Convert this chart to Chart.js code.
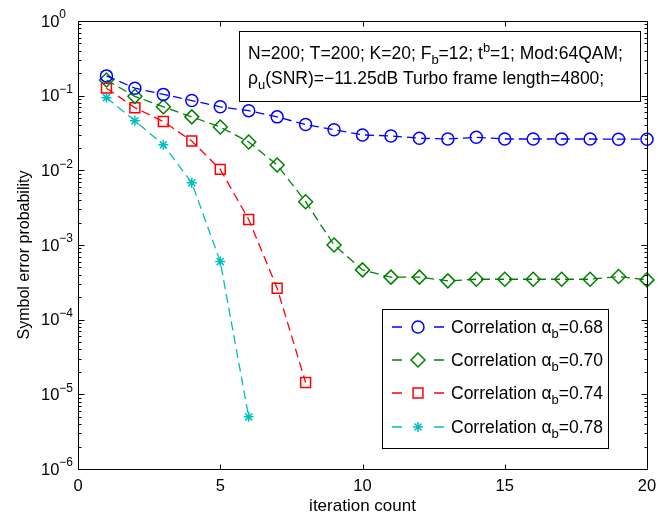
<!DOCTYPE html>
<html>
<head>
<meta charset="utf-8">
<script src="https://cdn.jsdelivr.net/npm/chart.js@4.4.0/dist/chart.umd.min.js"></script>
<style>
  html, body { margin: 0; padding: 0; background: #fff; }
  #wrap { width: 672px; height: 514px; }
</style>
</head>
<body>
<div id="wrap"><canvas id="c" width="672" height="514"></canvas></div>
<script>
// iteration index and symbol error probability per correlation value
const iterations = [1, 2, 3, 4, 5, 6, 7, 8, 9, 10, 11, 12, 13, 14, 15, 16, 17, 18, 19, 20];
const ser068 = [0.184, 0.126, 0.104, 0.086, 0.071, 0.063, 0.052, 0.041, 0.035, 0.0298,
                0.0289, 0.0269, 0.0263, 0.0277, 0.0263, 0.0263, 0.0263, 0.0263, 0.0261, 0.0261];
const ser070 = [0.162, 0.098, 0.071, 0.052, 0.038, 0.024, 0.0118, 0.0038, 0.00100, 4.64e-4,
                3.71e-4, 3.71e-4, 3.31e-4, 3.48e-4, 3.48e-4, 3.48e-4, 3.48e-4, 3.48e-4, 3.78e-4, 3.41e-4];
const ser074 = [0.126, 0.069, 0.045, 0.0247, 0.0103, 0.0022, 2.64e-4, 1.44e-5];
const ser078 = [0.094, 0.046, 0.022, 0.0068, 6.0e-4, 5.0e-6];

const xTicks = [0, 5, 10, 15, 20];
const yExponents = [0, -1, -2, -3, -4, -5, -6];
const legendLabels = ['0.68', '0.70', '0.74', '0.78'];

const FONT = '"Liberation Sans", Arial, Helvetica, sans-serif';

function toPoints(vals) {
    return vals.map((v, i) => ({ x: iterations[i], y: v }));
}

function series(vals, color, style, radius) {
    return {
        data: toPoints(vals),
        borderColor: color,
        backgroundColor: 'transparent',
        borderWidth: 1.3,
        borderDash: [9, 5],
        pointStyle: style,
        pointRadius: radius,
        pointBorderWidth: 1.5,
        pointBorderColor: color,
        pointBackgroundColor: 'transparent',
        tension: 0,
        clip: false
    };
}

// text with sub/superscripts
function drawRich(ctx, parts, x, y, size) {
    let cx = x;
    parts.forEach(p => {
        const s = p.sub || p.sup ? Math.round(size * 0.72) : size;
        ctx.font = s + 'px ' + FONT;
        const dy = p.sub ? size * 0.3 : (p.sup ? -size * 0.42 : 0);
        ctx.fillText(p.t, cx, y + dy);
        cx += ctx.measureText(p.t).width;
    });
    return cx;
}

const decorPlugin = {
    id: 'decor',
    afterDraw(chart) {
        const ctx = chart.ctx;
        const a = chart.chartArea;
        const xs = chart.scales.x, ys = chart.scales.y;
        ctx.save();
        ctx.strokeStyle = '#000';
        ctx.fillStyle = '#000';
        ctx.lineWidth = 1;
        ctx.setLineDash([]);

        const L = Math.round(a.left) + 0.5, R = Math.round(a.right) + 0.5;
        const T = Math.round(a.top) + 0.5, B = Math.round(a.bottom) + 0.5;
        ctx.strokeRect(L, T, R - L, B - T);

        // x ticks (inside, bottom and top)
        ctx.beginPath();
        xTicks.forEach(v => {
            const px = Math.round(xs.getPixelForValue(v)) + 0.5;
            ctx.moveTo(px, B); ctx.lineTo(px, B - 5);
            ctx.moveTo(px, T); ctx.lineTo(px, T + 5);
        });
        // y major and minor ticks (inside, left and right)
        yExponents.forEach(e => {
            const py = Math.round(ys.getPixelForValue(Math.pow(10, e))) + 0.5;
            ctx.moveTo(L, py); ctx.lineTo(L + 6, py);
            ctx.moveTo(R, py); ctx.lineTo(R - 6, py);
            if (e > -6) {
                for (let m = 2; m <= 9; m++) {
                    const pm = Math.round(ys.getPixelForValue(m * Math.pow(10, e - 1))) + 0.5;
                    ctx.moveTo(L, pm); ctx.lineTo(L + 3, pm);
                    ctx.moveTo(R, pm); ctx.lineTo(R - 3, pm);
                }
            }
        });
        ctx.stroke();

        // tick labels
        ctx.textBaseline = 'alphabetic';
        ctx.textAlign = 'center';
        ctx.font = '16.5px ' + FONT;
        xTicks.forEach(v => {
            ctx.fillText(String(v), xs.getPixelForValue(v), 491);
        });
        ctx.textBaseline = 'middle';
        ctx.textAlign = 'left';
        yExponents.forEach(e => {
            const py = ys.getPixelForValue(Math.pow(10, e));
            drawRich(ctx, [{ t: '10' }, { t: e === 0 ? '0' : '\u2212' + (-e), sup: true }], 41, py + 1, 16.5);
        });

        // axis titles
        ctx.textAlign = 'center';
        ctx.textBaseline = 'alphabetic';
        ctx.font = '17px ' + FONT;
        ctx.fillText('iteration count', (a.left + a.right) / 2, 511);
        ctx.save();
        ctx.translate(29, 255);
        ctx.rotate(-Math.PI / 2);
        ctx.font = '16px ' + FONT;
        ctx.fillText('Symbol error probability', 0, 0);
        ctx.restore();

        // parameter box
        ctx.fillStyle = '#fff';
        ctx.fillRect(239.5, 31.5, 401, 70);
        ctx.strokeRect(239.5, 31.5, 401, 70);
        ctx.fillStyle = '#000';
        ctx.textAlign = 'left';
        drawRich(ctx, [
            { t: 'N=200; T=200; K=20; F' }, { t: 'b', sub: true }, { t: '=12; t' },
            { t: 'b', sup: true }, { t: '=1; Mod:64QAM;' }
        ], 248, 59, 17.5);
        drawRich(ctx, [
            { t: '\u03c1' }, { t: 'u', sub: true },
            { t: '(SNR)=\u221211.25dB Turbo frame length=4800;' }
        ], 248, 84, 17.5);

        // legend
        ctx.fillStyle = '#fff';
        ctx.fillRect(382.5, 309.5, 226, 139);
        ctx.strokeRect(382.5, 309.5, 226, 139);
        const rows = [327, 360, 393, 427];
        chart.data.datasets.forEach((ds, i) => {
            const ry = rows[i];
            ctx.strokeStyle = ds.borderColor;
            ctx.lineWidth = ds.borderWidth;
            ctx.beginPath();
            ctx.moveTo(392, ry); ctx.lineTo(402, ry);
            ctx.moveTo(434, ry); ctx.lineTo(444, ry);
            ctx.stroke();
            ctx.lineWidth = ds.pointBorderWidth;
            ctx.fillStyle = 'rgba(0,0,0,0)';
            Chart.helpers.drawPoint(ctx, {
                pointStyle: ds.pointStyle, radius: ds.pointRadius, rotation: 0, borderWidth: ds.pointBorderWidth
            }, 418, ry);
            ctx.fillStyle = '#000';
            drawRich(ctx, [
                { t: 'Correlation \u03b1' }, { t: 'b', sub: true }, { t: '=' + legendLabels[i] }
            ], 451, ry + 6, 17.5);
        });
        ctx.restore();
    }
};

new Chart(document.getElementById('c'), {
    type: 'line',
    data: {
        datasets: [
            series(ser068, '#0000ff', 'circle', 6),
            series(ser070, '#008000', 'rectRot', 7),
            series(ser074, '#ff0000', 'rect', 7),
            series(ser078, '#00bfbf', 'star', 5)
        ]
    },
    options: {
        responsive: false,
        animation: false,
        devicePixelRatio: 1,
        layout: { padding: { top: 21, right: 25, left: 0, bottom: 0 } },
        plugins: { legend: { display: false }, tooltip: { enabled: false } },
        scales: {
            x: {
                type: 'linear', min: 0, max: 20,
                grid: { display: false }, border: { display: false },
                ticks: { display: false },
                afterFit: s => { s.height = 45; }
            },
            y: {
                type: 'logarithmic', min: 1e-6, max: 1,
                grid: { display: false }, border: { display: false },
                ticks: { display: false },
                afterFit: s => { s.width = 78; }
            }
        }
    },
    plugins: [decorPlugin]
});
</script>
</body>
</html>
